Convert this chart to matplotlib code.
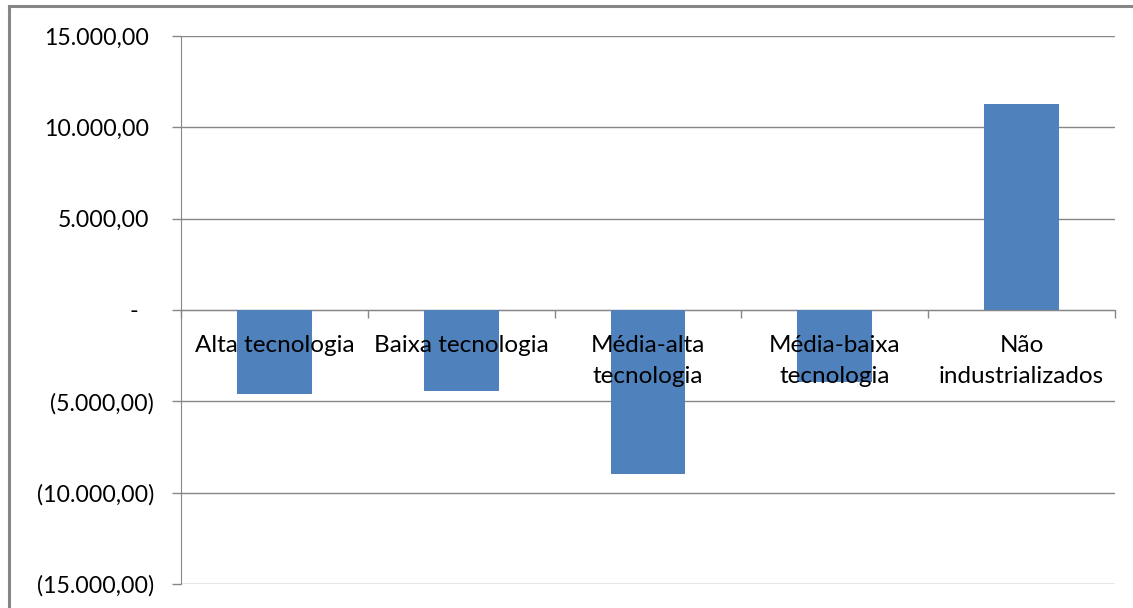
import matplotlib
matplotlib.use("Agg")
import matplotlib.pyplot as plt
import matplotlib.transforms as mtransforms
from matplotlib.lines import Line2D

# data
categories = ["Alta tecnologia", "Baixa tecnologia", "Média-alta\ntecnologia",
              "Média-baixa\ntecnologia", "Não\nindustrializados"]
values = [-4610, -4440, -8960, -3950, 11300]

y_ticks = [15000, 10000, 5000, 0, -5000, -10000, -15000]
y_tick_labels = ["15.000,00", "10.000,00", "5.000,00", "-", "(5.000,00)",
                 "(10.000,00)", "(15.000,00)"]

grey = "#868686"
bar_color = "#4F81BD"
plt.rcParams["font.family"] = ["Lato", "DejaVu Sans"]

fig = plt.figure(figsize=(11.33, 6.08), dpi=100)
ax = fig.add_axes([181 / 1133, 24 / 608, (1115 - 181) / 1133, (584 - 36) / 608])

x = list(range(len(categories)))
ax.bar(x, values, width=0.4, color=bar_color, zorder=2)

ax.set_xlim(-0.5, len(categories) - 0.5)
ax.set_ylim(-15000, 15000)

# gridlines
ax.set_axisbelow(True)
ax.yaxis.grid(True, color=grey, linewidth=1.0)
ax.set_yticks(y_ticks)
ax.set_yticklabels(y_tick_labels, fontsize=16.7)
ax.tick_params(axis="y", length=6.5, width=1.0, color=grey, pad=13)

# shift labels like Excel accounting format
shifts = {"-": -16, "(5.000,00)": 0, "(10.000,00)": 0, "(15.000,00)": 0}
for lab in ax.get_yticklabels():
    dx = shifts.get(lab.get_text(), -5)
    lab.set_transform(lab.get_transform() +
                      mtransforms.ScaledTranslation(dx / 100, 0, fig.dpi_scale_trans))

# x axis on the zero line with ticks at category boundaries
for side in ["top", "right"]:
    ax.spines[side].set_visible(False)
ax.spines["left"].set_color(grey)
ax.spines["bottom"].set_position(("data", 0))
ax.spines["bottom"].set_color(grey)
ax.spines["bottom"].set_zorder(1)
ax.set_xticks([i - 0.5 for i in range(len(categories) + 1)])
ax.set_xticklabels([])
ax.tick_params(axis="x", length=6, width=1.0, color=grey)

for i, cat in enumerate(categories):
    ax.annotate(cat, xy=(i, 0), xytext=(0, -18), textcoords="offset points",
                ha="center", va="top", fontsize=17.5, linespacing=1.6, zorder=5)

# outer chart border (only top and left visible in the reference)
fig.add_artist(Line2D([9 / 1133, 9 / 1133], [0, 1 - 6 / 608], color=grey, linewidth=2.2,
                      transform=fig.transFigure))
fig.add_artist(Line2D([9 / 1133, 1], [1 - 6 / 608, 1 - 6 / 608], color=grey, linewidth=2.2,
                      transform=fig.transFigure))

fig.savefig("out.png", dpi=100)
